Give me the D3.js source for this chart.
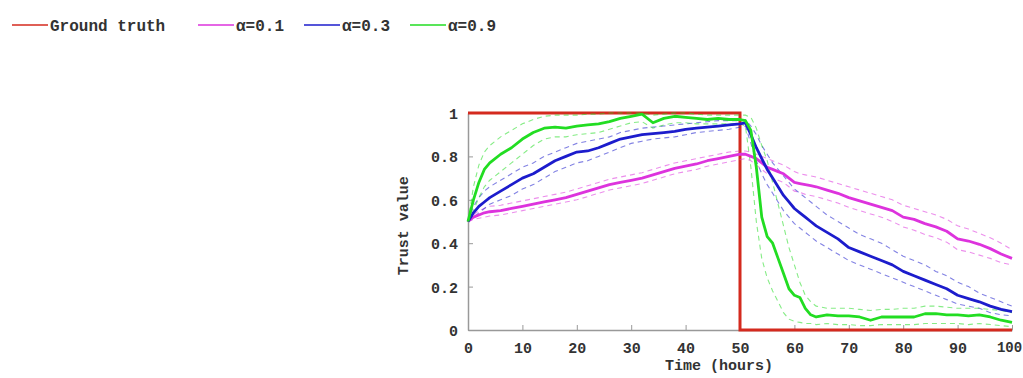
<!DOCTYPE html>
<html>
<head>
<meta charset="utf-8">
<script src="https://cdn.jsdelivr.net/npm/d3@7"></script>
<style>
  body { margin: 0; background: #fff; }
  svg { display: block; }
  text { font-family: "Liberation Mono", "DejaVu Sans Mono", monospace; font-weight: bold; fill: #333; }
</style>
</head>
<body>
<div id="chart"></div>
<script>
// hours at which each series is sampled
const hours = [0,1,2,3,4,6,8,10,12,14,16,18,20,22,24,26,28,30,32,34,36,38,40,42,44,46,48,50,
  51,52,53,54,55,56,57,58,59,60,61,62,63,64,66,68,70,72,74,76,78,80,82,84,86,88,90,92,94,96,98,100];

const gtHours = [0, 50, 50, 100];
const gtValues = [1, 1, 0, 0];

// alpha = 0.1
const a1Mean = [0.50,0.52,0.53,0.54,0.545,0.55,0.56,0.57,0.58,0.59,0.60,0.61,0.625,0.64,0.655,0.67,0.68,0.69,0.70,0.715,0.73,0.745,0.755,0.765,0.78,0.79,0.80,0.81,
  0.81,0.80,0.79,0.77,0.75,0.74,0.73,0.72,0.70,0.68,0.675,0.67,0.665,0.66,0.645,0.63,0.61,0.595,0.58,0.565,0.55,0.52,0.51,0.49,0.475,0.455,0.42,0.41,0.395,0.375,0.35,0.33];
const a1Hi = [0.50,0.53,0.55,0.56,0.57,0.575,0.585,0.595,0.605,0.615,0.625,0.635,0.65,0.665,0.68,0.695,0.705,0.715,0.725,0.74,0.755,0.77,0.78,0.79,0.80,0.81,0.82,0.825,
  0.825,0.82,0.81,0.80,0.79,0.78,0.77,0.76,0.745,0.73,0.72,0.715,0.71,0.705,0.69,0.675,0.66,0.645,0.63,0.615,0.60,0.575,0.56,0.545,0.53,0.51,0.48,0.465,0.445,0.425,0.40,0.37];
const a1Lo = [0.50,0.51,0.515,0.52,0.525,0.53,0.54,0.55,0.56,0.57,0.58,0.59,0.60,0.615,0.63,0.645,0.655,0.665,0.675,0.69,0.705,0.72,0.73,0.74,0.755,0.765,0.775,0.785,
  0.79,0.78,0.76,0.74,0.72,0.70,0.69,0.68,0.66,0.64,0.635,0.625,0.62,0.615,0.60,0.585,0.565,0.55,0.535,0.52,0.50,0.475,0.46,0.44,0.425,0.405,0.37,0.36,0.345,0.33,0.31,0.30];

// alpha = 0.3
const a3Mean = [0.50,0.54,0.57,0.59,0.61,0.64,0.67,0.70,0.72,0.75,0.78,0.80,0.82,0.825,0.84,0.86,0.88,0.89,0.90,0.905,0.91,0.915,0.925,0.93,0.935,0.94,0.945,0.95,
  0.955,0.90,0.84,0.79,0.74,0.70,0.66,0.62,0.59,0.56,0.54,0.52,0.50,0.48,0.45,0.42,0.38,0.36,0.34,0.32,0.30,0.27,0.25,0.23,0.21,0.19,0.16,0.145,0.13,0.11,0.095,0.085];
const a3Hi = [0.50,0.57,0.61,0.64,0.66,0.69,0.72,0.75,0.77,0.80,0.82,0.84,0.86,0.87,0.88,0.89,0.91,0.92,0.93,0.935,0.94,0.945,0.95,0.955,0.96,0.965,0.965,0.965,
  0.97,0.94,0.90,0.85,0.81,0.77,0.74,0.71,0.68,0.65,0.63,0.61,0.59,0.57,0.53,0.50,0.47,0.44,0.42,0.40,0.37,0.34,0.32,0.30,0.27,0.25,0.22,0.20,0.17,0.15,0.13,0.11];
const a3Lo = [0.50,0.52,0.54,0.56,0.58,0.60,0.62,0.65,0.67,0.70,0.73,0.75,0.77,0.78,0.80,0.82,0.84,0.86,0.87,0.88,0.885,0.89,0.90,0.91,0.915,0.92,0.925,0.935,
  0.94,0.86,0.78,0.72,0.67,0.63,0.59,0.55,0.52,0.49,0.47,0.45,0.43,0.41,0.38,0.35,0.32,0.30,0.28,0.26,0.24,0.22,0.20,0.18,0.16,0.14,0.12,0.11,0.10,0.08,0.07,0.065];

// alpha = 0.9
const a9Mean = [0.50,0.60,0.68,0.74,0.77,0.81,0.84,0.88,0.91,0.93,0.935,0.93,0.94,0.945,0.95,0.96,0.975,0.985,0.995,0.955,0.975,0.985,0.98,0.975,0.97,0.975,0.97,0.97,
  0.965,0.92,0.75,0.52,0.43,0.40,0.33,0.26,0.19,0.16,0.15,0.10,0.07,0.06,0.07,0.065,0.065,0.06,0.045,0.06,0.06,0.06,0.06,0.075,0.075,0.07,0.07,0.065,0.07,0.06,0.045,0.035];
const a9Hi = [0.50,0.66,0.76,0.82,0.85,0.89,0.92,0.95,0.97,0.985,0.99,0.99,0.99,0.995,0.995,1.0,1.0,1.0,1.0,0.99,0.995,1.0,1.0,0.995,0.99,0.99,0.99,0.99,
  0.99,0.98,0.93,0.85,0.78,0.68,0.58,0.48,0.38,0.30,0.22,0.16,0.13,0.11,0.10,0.10,0.10,0.095,0.09,0.095,0.095,0.10,0.10,0.11,0.11,0.105,0.10,0.10,0.10,0.095,0.09,0.08];
const a9Lo = [0.50,0.55,0.61,0.66,0.69,0.73,0.77,0.81,0.85,0.88,0.89,0.89,0.90,0.905,0.91,0.925,0.94,0.955,0.96,0.93,0.945,0.955,0.955,0.95,0.95,0.95,0.95,0.95,
  0.94,0.75,0.50,0.33,0.24,0.18,0.13,0.08,0.05,0.04,0.035,0.03,0.03,0.025,0.03,0.025,0.025,0.02,0.02,0.025,0.025,0.025,0.025,0.03,0.03,0.03,0.03,0.025,0.03,0.025,0.02,0.015];

const xTicks = [0,10,20,30,40,50,60,70,80,90,100];
const yTicks = [0,0.2,0.4,0.6,0.8,1];

const series = [
  { name: 'α=0.1', color: '#dd33dd', mean: a1Mean, hi: a1Hi, lo: a1Lo },
  { name: 'α=0.3', color: '#1c1ccc', mean: a3Mean, hi: a3Hi, lo: a3Lo },
  { name: 'α=0.9', color: '#22dd22', mean: a9Mean, hi: a9Hi, lo: a9Lo }
];
const gtColor = '#d42a1e';

const width = 1023, height = 378;
const margin = { top: 113, right: 11, bottom: 48, left: 468 };
const graphWidth = width - margin.left - margin.right;
const graphHeight = height - margin.top - margin.bottom;

const svg = d3.select('#chart').append('svg')
  .attr('width', width)
  .attr('height', height);

const graph = svg.append('g').attr('transform', `translate(${margin.left}, ${margin.top})`);

const xScale = d3.scaleLinear().domain([0, 100]).range([0, graphWidth]);
const yScale = d3.scaleLinear().domain([0, 1]).range([graphHeight, 0]);

// axes: inward ticks, grey lines
const xAxis = d3.axisBottom(xScale).tickValues(xTicks).tickSizeInner(-5).tickSizeOuter(0).tickPadding(12).tickFormat(d3.format('d'));
const yAxis = d3.axisLeft(yScale).tickValues(yTicks).tickSizeInner(-5).tickSizeOuter(0).tickPadding(10).tickFormat(d => d === 0 || d === 1 ? d : d3.format('.1f')(d));

const gx = graph.append('g').attr('transform', `translate(0, ${graphHeight})`).call(xAxis);
const gy = graph.append('g').call(yAxis);
[gx, gy].forEach(g => {
  g.selectAll('path').attr('stroke', '#999').attr('stroke-width', 1.5);
  g.selectAll('line').attr('stroke', '#999');
  g.selectAll('text').style('font-size', '15px').attr('fill', '#333');
});
gy.selectAll('text').attr('dy', '0.36em');
// last label sits against the page edge
gx.selectAll('text').filter(d => d === 100).style('font-size', '14px').attr('dx', -3);

graph.append('text')
  .attr('text-anchor', 'middle')
  .attr('x', xScale(50) - 21)
  .attr('y', graphHeight + 40)
  .style('font-size', '15px')
  .text('Time (hours)');

graph.append('text')
  .attr('text-anchor', 'middle')
  .attr('transform', `translate(${408 - margin.left}, ${yScale(0.48)}) rotate(-90)`)
  .style('font-size', '15px')
  .text('Trust value');

const line = d3.line()
  .x(d => xScale(d[0]))
  .y(d => yScale(d[1]));

// ground truth
graph.append('path')
  .datum(gtHours.map((h, i) => [h, gtValues[i]]))
  .attr('fill', 'none')
  .attr('stroke', gtColor)
  .attr('stroke-width', 3)
  .attr('d', line);

// dashed bounds
series.forEach(s => {
  [s.hi, s.lo].forEach(arr => {
    graph.append('path')
      .datum(hours.map((h, i) => [h, arr[i]]))
      .attr('fill', 'none')
      .attr('stroke', s.color)
      .attr('stroke-opacity', 0.55)
      .attr('stroke-width', 1.1)
      .attr('stroke-dasharray', '5,4')
      .attr('d', line);
  });
});

// means
series.forEach(s => {
  graph.append('path')
    .datum(hours.map((h, i) => [h, s.mean[i]]))
    .attr('fill', 'none')
    .attr('stroke', s.color)
    .attr('stroke-width', 2.8)
    .attr('stroke-linejoin', 'round')
    .attr('d', line);
});

// legend
const legendItems = [
  { name: 'Ground truth', color: gtColor, x: 12 },
  { name: series[0].name, color: series[0].color, x: 198 },
  { name: series[1].name, color: series[1].color, x: 304 },
  { name: series[2].name, color: series[2].color, x: 410 }
];
const legend = svg.append('g');
legendItems.forEach(item => {
  legend.append('line')
    .attr('x1', item.x).attr('x2', item.x + 36)
    .attr('y1', 25).attr('y2', 25)
    .attr('stroke', item.color)
    .attr('stroke-width', 1.5);
  legend.append('text')
    .attr('x', item.x + 38)
    .attr('y', 31)
    .style('font-size', '16px')
    .text(item.name);
});
</script>
</body>
</html>
